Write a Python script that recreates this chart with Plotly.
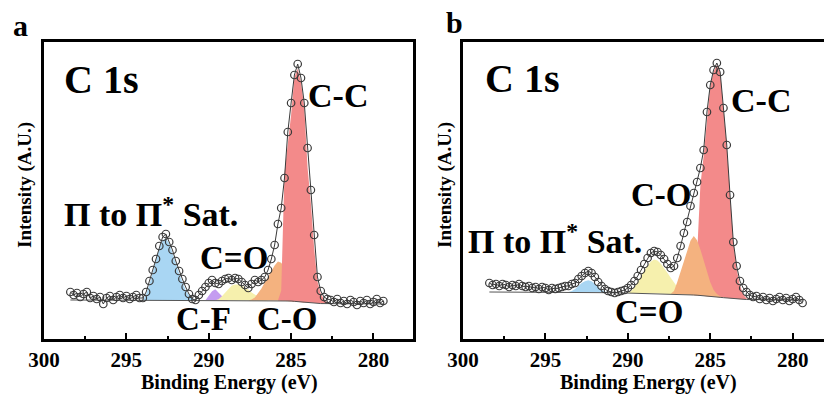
import numpy as np
import plotly.graph_objects as go

# ---------------------------------------------------------------
# C 1s XPS spectra, two samples (a, b)
# Binding-energy sampling: 298.4 eV down to 279.4 eV in 0.2 eV steps
# ---------------------------------------------------------------
E_START, E_STEP, N_PTS = 298.4, 0.2, 96
energy = np.round(E_START - E_STEP * np.arange(N_PTS), 1)

# measured intensity (a.u.), sample a
intensity_a = [
    47, 44, 46, 42, 45, 47, 41, 43, 40, 42, 35, 41, 43, 39, 42, 44, 41, 43, 40, 42,
    44, 41, 41, 47, 58, 69, 80, 93, 102, 105, 97, 89, 78, 68, 60, 52, 45, 40, 39, 44,
    48, 52, 56, 59, 56, 55, 58, 60, 61, 59, 61, 60, 57, 54, 51, 55, 59, 57, 59, 62,
    69, 80, 94, 115, 131, 161, 207, 236, 264, 275, 261, 236, 191, 149, 104, 62, 48, 42, 40, 39,
    37, 40, 36, 38, 35, 39, 37, 34, 38, 36, 39, 35, 37, 40, 36, 38,
]

# measured intensity (a.u.), sample b
intensity_b = [
    56, 54, 55, 53, 55, 54, 52, 54, 53, 55, 53, 52, 53, 51, 52, 50, 52, 51, 49, 51,
    50, 51, 52, 53, 53, 55, 56, 60, 63, 66, 68, 66, 62, 57, 53, 50, 48, 47, 46, 47,
    48, 49, 51, 54, 58, 63, 69, 75, 81, 86, 88, 87, 84, 80, 75, 71, 73, 81, 93, 106,
    117, 133, 146, 157, 171, 189, 227, 254, 269, 276, 267, 231, 194, 144, 97, 73, 58, 51, 47, 44,
    42, 43, 40, 42, 39, 41, 38, 40, 42, 39, 41, 38, 40, 42, 39, 36,
]

# Shirley-type background anchor points (energy, intensity)
bg_energy_a = [298.4, 286.0, 285.0, 284.4, 283.6, 279.4]
bg_level_a = [39, 38.5, 38, 37, 35.5, 35]
bg_energy_b = [298.4, 293.0, 287.0, 285.5, 284.0, 283.0, 279.4]
bg_level_b = [47, 47, 45, 43.5, 41, 39.5, 39]

# fitted components: first energy of each list, then height above background
pi_sat_a_start = 294.0
pi_sat_a = [0, 6, 16, 28, 40, 52, 60, 62, 57, 48, 37, 27, 18, 10, 5, 2, 0]
cf_a_start = 290.2
cf_a = [0, 4, 9, 11, 8, 4, 1, 0]
c_dbl_o_a_start = 289.6
c_dbl_o_a = [0, 1, 4, 8, 12, 15, 16, 16, 15, 13, 11, 8, 6, 4, 2, 1, 0]
c_o_a_start = 287.6
c_o_a = [0, 1, 3, 7, 12, 18, 24, 30, 35, 39, 38, 33, 25, 17, 10, 5, 2, 0]
c_c_a_start = 285.8
c_c_a = [0, 10, 128, 154, 186, 224, 233, 220, 195, 135, 100, 55, 22, 10, 4, 1, 0]

pi_sat_b_start = 293.6
pi_sat_b = [0, 1, 3, 6, 9, 11, 12, 11, 8, 5, 3, 1, 0]
c_dbl_o_b_start = 290.0
c_dbl_o_b = [0, 2, 6, 11, 17, 23, 28, 32, 34, 33, 30, 26, 21, 16, 11, 7, 4, 2, 1, 0]
c_o_b_start = 287.4
c_o_b = [0, 3, 12, 22, 33, 44, 54, 59, 55, 46, 35, 24, 14, 7, 3, 1, 0]
c_c_b_start = 286.2
c_c_b = [0, 5, 40, 110, 140, 178, 210, 225, 232, 225, 190, 152, 102, 56, 30, 14, 5, 1, 0]

COL_PI = "#a9d6f3"
COL_CF = "#c49cf0"
COL_CDO = "#f6f0ad"
COL_CO = "#f4b27f"
COL_CC = "#f38a8a"

W, H = 824, 394
FONT = "Liberation Serif"


def px(x):
    return x / W


def py(y):
    return 1 - y / H


def background(e, bg_e, bg_i):
    order = np.argsort(bg_e)
    return np.interp(e, np.asarray(bg_e)[order], np.asarray(bg_i)[order])


def component_trace(start, heights, color, bg_e, bg_i, xa, ya):
    e = np.round(start - E_STEP * np.arange(len(heights)), 1)
    base = background(e, bg_e, bg_i)
    top = base + np.asarray(heights, dtype=float)
    xs = np.concatenate([e, e[::-1]])
    ys = np.concatenate([top, base[::-1]])
    return go.Scatter(x=xs, y=ys, mode="lines", fill="toself", fillcolor=color,
                      line=dict(width=0), xaxis=xa, yaxis=ya, hoverinfo="skip")


fig = go.Figure()

panels = [
    ("x", "y", intensity_a, bg_energy_a, bg_level_a,
     [(pi_sat_a_start, pi_sat_a, COL_PI), (cf_a_start, cf_a, COL_CF),
      (c_dbl_o_a_start, c_dbl_o_a, COL_CDO), (c_o_a_start, c_o_a, COL_CO),
      (c_c_a_start, c_c_a, COL_CC)]),
    ("x2", "y2", intensity_b, bg_energy_b, bg_level_b,
     [(pi_sat_b_start, pi_sat_b, COL_PI), (c_dbl_o_b_start, c_dbl_o_b, COL_CDO),
      (c_c_b_start, c_c_b, COL_CC), (c_o_b_start, c_o_b, COL_CO)]),
]

for xa, ya, inten, bg_e, bg_i, comps in panels:
    for start, heights, color in comps:
        fig.add_trace(component_trace(start, heights, color, bg_e, bg_i, xa, ya))
    fig.add_trace(go.Scatter(x=energy, y=background(energy, bg_e, bg_i), mode="lines",
                             line=dict(color="#555555", width=1), xaxis=xa, yaxis=ya))
    fig.add_trace(go.Scatter(x=energy, y=inten, mode="lines+markers",
                             line=dict(color="#3a3a3a", width=1),
                             marker=dict(symbol="circle-open", size=7.5,
                                         line=dict(color="#5a5a5a", width=1.2)),
                             xaxis=xa, yaxis=ya))

xcommon = dict(
    showline=True, linecolor="black", linewidth=2.5, mirror=True, automargin=False,
    ticks="inside", ticklen=6, tickwidth=2, tickcolor="black",
    tickvals=[300, 295, 290, 285, 280],
    minor=dict(ticks="inside", ticklen=3, tickwidth=1.5, tickcolor="black",
               tickvals=[297.5, 292.5, 287.5, 282.5]),
    tickfont=dict(family=FONT, size=21, color="black", weight="bold"),
    showgrid=False, zeroline=False,
)
ycommon = dict(showline=True, linecolor="black", linewidth=2.5, ticks="", automargin=False,
               showticklabels=False, showgrid=False, zeroline=False, range=[0, 297],
               domain=[py(339), py(42)])

fig.update_layout(
    template="none",
    width=W, height=H, margin=dict(l=0, r=0, t=0, b=0, pad=0),
    paper_bgcolor="white", plot_bgcolor="white", showlegend=False,
    xaxis=dict(xcommon, domain=[px(44), px(413)], range=[300, 277.6], anchor="y"),
    yaxis=dict(ycommon, mirror=True, anchor="x"),
    xaxis2=dict(xcommon, domain=[px(463), 1.0], range=[300, 278.1], anchor="y2"),
    yaxis2=dict(ycommon, mirror=False, anchor="x2"),
)


def label(text, x, y, size, angle=0):
    fig.add_annotation(text=text, x=px(x), y=py(y), xref="paper", yref="paper",
                       showarrow=False, xanchor="center", yanchor="middle",
                       textangle=angle,
                       font=dict(family=FONT, size=size, color="black", weight="bold"))


# panel letters
label("a", 20, 26, 30)
label("b", 454, 22, 30)
# core level
label("C 1s", 101, 80, 40)
label("C 1s", 522, 78, 40)
# peak assignments, sample a
label("C-C", 338, 95, 34)
label("Π to Π<sup>*</sup> Sat.", 151, 212, 34)
label("C=O", 234, 258, 33)
label("C-F", 203, 319, 33)
label("C-O", 287, 319, 33)
# peak assignments, sample b
label("C-C", 761, 101, 34)
label("Π to Π<sup>*</sup> Sat.", 555, 239, 34)
label("C-O", 661, 195, 33)
label("C=O", 649, 312, 33)
# axis titles
label("Binding Energy (eV)", 229, 382, 20)
label("Binding Energy (eV)", 648, 382, 20)
label("Intensity (A.U.)", 25, 185, 19, -90)
label("Intensity (A.U.)", 445, 185, 19, -90)

fig.write_html("out.html")
